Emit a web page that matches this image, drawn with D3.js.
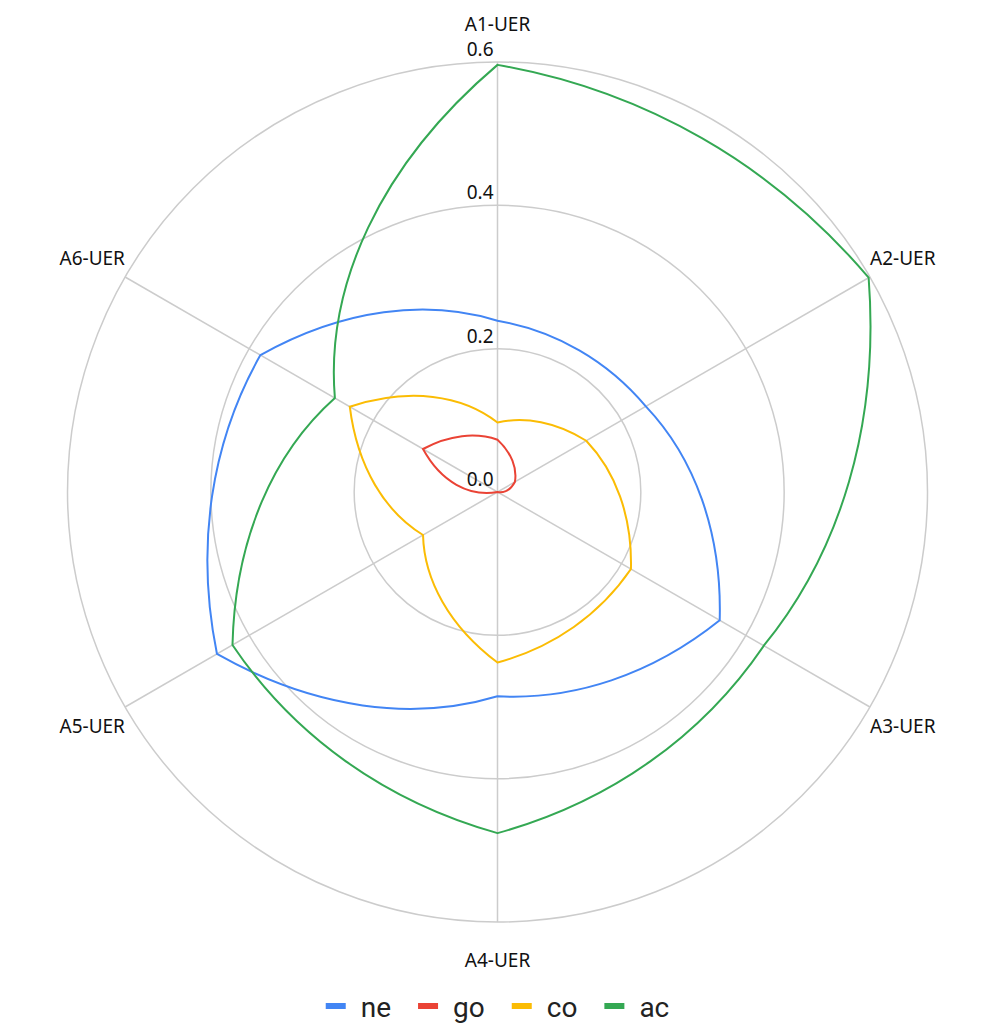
<!DOCTYPE html>
<html>
<head>
<meta charset="utf-8">
<script src="https://cdn.jsdelivr.net/npm/d3@7"></script>
<style>
body { margin: 0; background: #fff; }
</style>
</head>
<body>
<svg id="chart"></svg>
<script>
var axes = ["A1-UER", "A2-UER", "A3-UER", "A4-UER", "A5-UER", "A6-UER"];
var ne = [0.239, 0.239, 0.358, 0.285, 0.452, 0.382];
var go = [0.073, 0.028, 0.0, 0.0, 0.0, 0.120];
var co = [0.097, 0.143, 0.215, 0.238, 0.120, 0.238];
var ac = [0.596, 0.598, 0.429, 0.476, 0.427, 0.262];
var seriesNames = ["ne", "go", "co", "ac"];
var seriesColors = ["#4285f4", "#ea4335", "#fbbc04", "#34a853"];
var tickValues = [0.0, 0.2, 0.4, 0.6];

var w = 996, h = 1025;
var cx = 497.5, cy = 492, R = 430;

var svg = d3.select("#chart").attr("width", w).attr("height", h);
var g = svg.append("g").attr("transform", "translate(" + cx + "," + cy + ")");

var rScale = d3.scaleLinear().domain([0, 0.6]).range([0, R]);
var angle = d3.scaleLinear().domain([0, axes.length]).range([0, 2 * Math.PI]);

// grid circles
g.selectAll(".grid").data(tickValues.filter(function(d){ return d > 0; }))
  .enter().append("circle")
  .attr("r", function(d){ return rScale(d); })
  .attr("fill", "none").attr("stroke", "#cccccc").attr("stroke-width", 1.5);

// spokes
g.selectAll(".spoke").data(axes).enter().append("line")
  .attr("x1", 0).attr("y1", 0)
  .attr("x2", function(d, i){ return d3.pointRadial(angle(i), R)[0]; })
  .attr("y2", function(d, i){ return d3.pointRadial(angle(i), R)[1]; })
  .attr("stroke", "#cccccc").attr("stroke-width", 1.5);

// axis labels
g.selectAll(".alabel").data(axes).enter().append("text")
  .attr("x", function(d, i){ return d3.pointRadial(angle(i), R + 38)[0]; })
  .attr("y", function(d, i){ return d3.pointRadial(angle(i), R + 38)[1]; })
  .attr("text-anchor", "middle").attr("dominant-baseline", "central")
  .style("font-family", "'Noto Sans', sans-serif").style("font-size", "19px")
  .attr("fill", "#111").text(function(d){ return d; });

// tick labels
g.selectAll(".tlabel").data(tickValues).enter().append("text")
  .attr("x", -4)
  .attr("y", function(d){ return -rScale(d) - 6; })
  .attr("text-anchor", "end")
  .style("font-family", "'Noto Sans', sans-serif").style("font-size", "19px")
  .attr("fill", "#111").text(function(d){ return d3.format(".1f")(d); });

// each segment: cubic bezier through the polar spiral's 1/3 and 2/3 points
function radarPath(vals) {
  var p = d3.path();
  var n = vals.length;
  for (var i = 0; i < n; i++) {
    var a0 = angle(i), a1 = angle(i + 1);
    var r0 = rScale(vals[i]), r1 = rScale(vals[(i + 1) % n]);
    var p0 = d3.pointRadial(a0, r0);
    var c1 = d3.pointRadial(a0 + (a1 - a0) / 3, r0 + (r1 - r0) / 3);
    var c2 = d3.pointRadial(a0 + 2 * (a1 - a0) / 3, r0 + 2 * (r1 - r0) / 3);
    var p3 = d3.pointRadial(a1, r1);
    if (i == 0) p.moveTo(p0[0], p0[1]);
    p.bezierCurveTo(c1[0], c1[1], c2[0], c2[1], p3[0], p3[1]);
  }
  p.closePath();
  return p.toString();
}

var allSeries = [ne, go, co, ac];
g.selectAll(".series").data(allSeries).enter().append("path")
  .attr("d", function(d){ return radarPath(d); })
  .attr("fill", "none")
  .attr("stroke", function(d, i){ return seriesColors[i]; })
  .attr("stroke-width", 2)
  .attr("stroke-linejoin", "miter");

// legend
var legend = svg.append("g");
var items = legend.selectAll(".item").data(seriesNames).enter().append("g");
items.append("rect").attr("x", 0).attr("y", -3).attr("width", 20).attr("height", 6)
  .attr("fill", function(d, i){ return seriesColors[i]; });
items.append("text").attr("x", 35).attr("y", 11)
  .style("font-family", "Roboto, sans-serif").style("font-size", "28px")
  .attr("fill", "#222").text(function(d){ return d; });

var xpos = 0, offsets = [];
items.each(function(d, i){
  offsets.push(xpos);
  var tw = d3.select(this).select("text").node().getComputedTextLength();
  xpos += 35 + tw + (i < seriesNames.length - 1 ? 27 : 0);
});
var startX = cx - xpos / 2;
items.attr("transform", function(d, i){ return "translate(" + (startX + offsets[i]) + ",1006)"; });
</script>
</body>
</html>
